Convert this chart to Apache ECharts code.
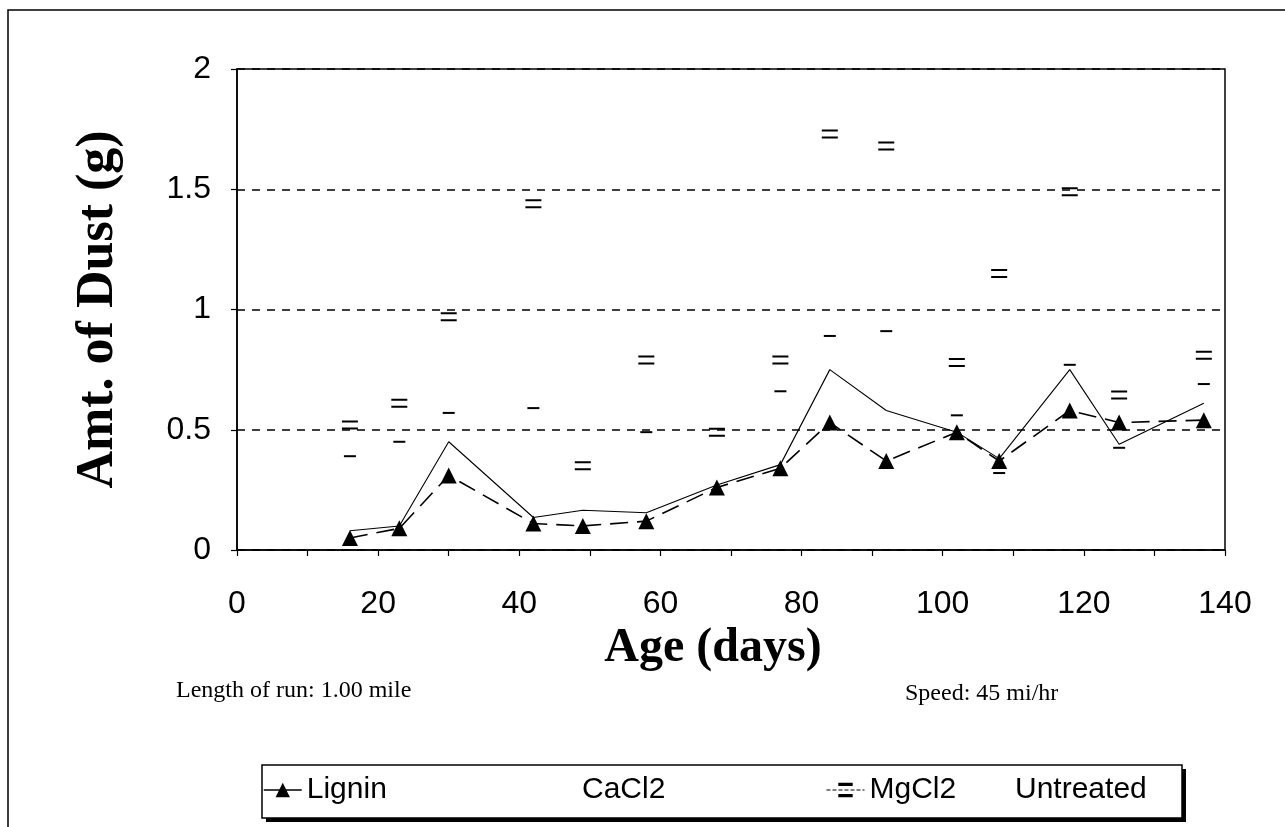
<!DOCTYPE html>
<html><head><meta charset="utf-8">
<script src="https://cdn.jsdelivr.net/npm/echarts@6/dist/echarts.min.js"></script>
<style>html,body{margin:0;padding:0;background:#fff}#c{width:1285px;height:827px}</style>
</head><body><div id="c"></div>
<script>
const days = [16, 23, 30, 42, 49, 58, 68, 77, 84, 92, 102, 108, 118, 125, 137];
const lignin = [0.05, 0.09, 0.31, 0.11, 0.10, 0.12, 0.26, 0.34, 0.53, 0.37, 0.49, 0.37, 0.58, 0.53, 0.54];
const cacl2 = [0.08, 0.10, 0.45, 0.135, 0.165, 0.155, 0.27, 0.355, 0.75, 0.58, 0.49, 0.38, 0.75, 0.44, 0.61];
const mgcl2 = [0.52, 0.61, 0.97, 1.44, 0.35, 0.79, 0.49, 0.79, 1.73, 1.68, 0.78, 1.15, 1.49, 0.645, 0.81];
const untreated = [0.39, 0.45, 0.57, 0.59, null, 0.49, null, 0.66, 0.89, 0.91, 0.56, 0.32, 0.77, 0.425, 0.69];
const seriesNames = ['Lignin', 'CaCl2', 'MgCl2', 'Untreated'];
const xTicks = [0, 20, 40, 60, 80, 100, 120, 140];

const pair = (ys) => days.map((d, i) => [d, ys[i]]);
const chart = echarts.init(document.getElementById('c'));
const serif = 'Liberation Serif';
const sans = 'Liberation Sans';
const legendBase = {
  top: 774, padding: 0, itemWidth: 38, itemHeight: 18, selectedMode: false,
  textStyle: { fontFamily: sans, fontSize: 30, color: '#000', lineHeight: 32 }
};
chart.setOption({
  animation: false,
  backgroundColor: '#fff',
  grid: { left: 237, right: 60, top: 69, bottom: 277, show: true, borderColor: '#000', borderWidth: 1.5, backgroundColor: 'transparent' },
  xAxis: {
    type: 'value', min: 0, max: 140, interval: 10,
    name: 'Age (days)', nameLocation: 'middle', nameGap: 72,
    nameTextStyle: { fontFamily: serif, fontWeight: 'bold', fontSize: 48, color: '#000', padding: [0, 36, 0, 0] },
    axisLine: { show: true, lineStyle: { color: '#000', width: 1.5 } },
    axisTick: { show: true, length: 6, lineStyle: { color: '#000', width: 1.2 } },
    axisLabel: { margin: 38, fontFamily: sans, fontSize: 32, color: '#000',
      formatter: v => (xTicks.indexOf(v) >= 0 ? String(v) : '') },
    splitLine: { show: false }
  },
  yAxis: {
    type: 'value', min: 0, max: 2, interval: 0.5,
    name: 'Amt. of Dust (g)', nameLocation: 'middle', nameGap: 112, nameRotate: 90,
    nameTextStyle: { fontFamily: serif, fontWeight: 'bold', fontSize: 52, color: '#000' },
    axisLine: { show: true, lineStyle: { color: '#000', width: 1.5 } },
    axisTick: { show: true, length: 6, lineStyle: { color: '#000', width: 1.2 } },
    axisLabel: { margin: 26, fontFamily: sans, fontSize: 32, color: '#000' },
    splitLine: { show: true, lineStyle: { color: '#000', width: 1.5, type: [8, 7] } }
  },
  legend: [
    Object.assign({}, legendBase, { left: 263, data: [{ name: 'Lignin', lineStyle: { type: 'solid', width: 1.5, color: '#000' } }] }),
    Object.assign({}, legendBase, { left: 539, data: [{ name: 'CaCl2', icon: 'none' }] }),
    Object.assign({}, legendBase, { left: 826, data: [{ name: 'MgCl2', lineStyle: { opacity: 1, color: '#000', width: 1, type: [4, 2] } }] }),
    Object.assign({}, legendBase, { left: 972, data: [{ name: 'Untreated', icon: 'none' }] })
  ],
  graphic: [
    { type: 'rect', z: -10, shape: { x: 8, y: 10, width: 1300, height: 840 }, style: { fill: '#fff', stroke: '#000', lineWidth: 1.5 } },
    { type: 'rect', z: -5, shape: { x: 266, y: 769, width: 920, height: 53 }, style: { fill: '#000' } },
    { type: 'rect', z: -4, shape: { x: 262, y: 765, width: 920, height: 53 }, style: { fill: '#fff', stroke: '#000', lineWidth: 1.5 } },
    { type: 'text', left: 176, top: 679, style: { text: 'Length of run: 1.00 mile', font: '24px "Liberation Serif"', fill: '#000' } },
    { type: 'text', left: 905, top: 682, style: { text: 'Speed: 45 mi/hr', font: '24px "Liberation Serif"', fill: '#000' } }
  ],
  series: [
    { name: seriesNames[0], type: 'line', data: pair(lignin), symbol: 'triangle', symbolSize: 16, z: 5,
      itemStyle: { color: '#000' }, lineStyle: { color: '#000', width: 1.6, type: [18, 9] } },
    { name: seriesNames[1], type: 'line', data: pair(cacl2), symbol: 'none', z: 4,
      itemStyle: { color: '#000' }, lineStyle: { color: '#000', width: 1.1 } },
    { name: seriesNames[2], type: 'line', data: pair(mgcl2), symbol: 'path://M0,0h16v2h-16z M0,7h16v2h-16z', symbolSize: [16, 9], z: 3,
      itemStyle: { color: '#000' }, lineStyle: { opacity: 0 } },
    { name: seriesNames[3], type: 'line', data: pair(untreated), symbol: 'path://M0,0h12v2h-12z', symbolSize: [12, 2], z: 3, connectNulls: false,
      itemStyle: { color: '#000' }, lineStyle: { opacity: 0 } }
  ]
});
</script></body></html>
